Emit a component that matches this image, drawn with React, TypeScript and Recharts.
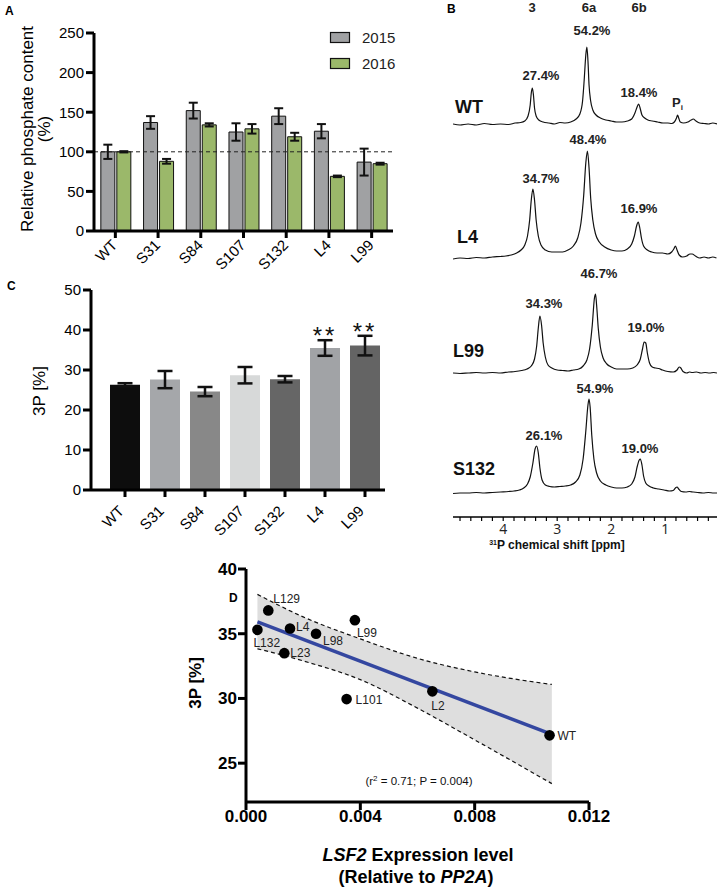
import React from 'react';
import {
  BarChart, Bar, XAxis, YAxis, ErrorBar, ReferenceLine, ReferenceDot, Legend, Cell,
  LineChart, Line, ComposedChart, Area, Scatter,
} from 'recharts';

const FONT = '"Liberation Sans", Arial, Helvetica, sans-serif';
const INK = '#111';

// ---------------- Panel A: relative phosphate content ----------------
const linesA = ['WT', 'S31', 'S84', 'S107', 'S132', 'L4', 'L99'];
const phosphate2015 = [100, 137, 152, 125, 145, 126, 87];
const phosphate2015Err = [9, 8, 10, 11, 10, 9, 17];
const phosphate2016 = [100, 88, 134, 129, 119, 69, 85];
const phosphate2016Err = [0.8, 3, 2, 6, 5, 1, 1.2];
const yearsA = ['2015', '2016'];
const ticksA = [0, 50, 100, 150, 200, 250];

// ---------------- Panel C: 3P [%] ----------------
const linesC = ['WT', 'S31', 'S84', 'S107', 'S132', 'L4', 'L99'];
const p3Mean = [26.3, 27.6, 24.6, 28.7, 27.7, 35.5, 36.1];
const p3Err = [0.4, 2.15, 1.15, 2.05, 0.8, 1.95, 2.45];
const p3Sig = ['', '', '', '', '', '**', '**'];
const ticksC = [0, 10, 20, 30, 40, 50];

// ---------------- Panel D: 3P vs LSF2 expression ----------------
const lineNamesD = ['L129', 'L132', 'L4', 'L98', 'L23', 'L99', 'L101', 'L2', 'WT'];
const lsf2Expr = [0.00078, 0.0004, 0.00154, 0.00245, 0.00134, 0.00381, 0.00352, 0.00652, 0.01062];
const p3PercentD = [36.8, 35.3, 35.4, 35.0, 33.5, 36.05, 29.95, 30.55, 27.15];
const fitX = [0.0004, 0.0107];
const fitY = [35.92, 27.22];
const bandX = [0.0004, 0.002, 0.004, 0.006, 0.008, 0.0107];
const bandLo = [33.84, 32.9, 31.45, 29.25, 26.8, 23.42];
const bandHi = [38.04, 36.3, 34.6, 33.1, 32.05, 31.08];
const ticksDx = [0, 0.004, 0.008, 0.012];
const ticksDy = [25, 30, 35, 40];

// ---------------- Panel B: 31P NMR spectra ----------------
type Pt = [number, number];
const spectraNames = ['WT', 'L4', 'L99', 'S132'];
const peakNames = ['3', '6a', '6b'];
const peakPercents = [
  ['27.4%', '54.2%', '18.4%'],
  ['34.7%', '48.4%', '16.9%'],
  ['34.3%', '46.7%', '19.0%'],
  ['26.1%', '54.9%', '19.0%'],
];
const ticksB = [4.8, 4.6, 4.4, 4.2, 4, 3.8, 3.6, 3.4, 3.2, 3, 2.8, 2.6, 2.4, 2.2, 2, 1.8, 1.6, 1.4, 1.2, 1, 0.8, 0.6, 0.4, 0.2];

const wtSpectrum: Pt[] = [
  [4.93, 1], [4.8, 0], [4.65, 1], [4.5, 0], [4.35, 1.5], [4.2, 0.5], [4.05, 1], [3.9, 0.5], [3.78, 2], [3.68, 2.5],
  [3.6, 4], [3.54, 9], [3.5, 20], [3.48, 32], [3.46, 37], [3.44, 30], [3.42, 17], [3.39, 9], [3.34, 5], [3.26, 3],
  [3.15, 2], [3.05, 1], [2.95, 2.5], [2.85, 2], [2.75, 3], [2.65, 6], [2.58, 11], [2.53, 24], [2.5, 45], [2.47, 70],
  [2.45, 78], [2.43, 64], [2.41, 40], [2.38, 24], [2.34, 15], [2.28, 10], [2.2, 7], [2.1, 5], [2.0, 4], [1.9, 3],
  [1.8, 3], [1.7, 4], [1.62, 6], [1.56, 12], [1.52, 18], [1.49, 21], [1.46, 16], [1.43, 10], [1.38, 7], [1.32, 5],
  [1.24, 4], [1.14, 3], [1.04, 2], [0.95, 2], [0.88, 1.5], [0.83, 3], [0.79, 7], [0.77, 10], [0.75, 7], [0.72, 3],
  [0.66, 2], [0.58, 3], [0.52, 5], [0.48, 6], [0.43, 4], [0.36, 2], [0.28, 1.5], [0.2, 1], [0.12, 2], [0.04, 1],
];
const l4Spectrum: Pt[] = [
  [4.93, -1], [4.8, 0], [4.65, -0.5], [4.5, 0.5], [4.35, 0], [4.2, 1], [4.05, 1.5], [3.95, 2], [3.85, 3], [3.75, 5],
  [3.67, 8], [3.6, 13], [3.55, 22], [3.51, 38], [3.48, 58], [3.45, 69], [3.42, 58], [3.39, 38], [3.35, 22], [3.3, 13],
  [3.22, 8], [3.1, 6], [3.0, 6], [2.9, 6], [2.8, 8], [2.7, 12], [2.62, 20], [2.56, 35], [2.51, 62], [2.47, 95],
  [2.44, 107], [2.41, 90], [2.38, 60], [2.34, 38], [2.29, 24], [2.22, 16], [2.12, 11], [2.0, 8], [1.9, 7], [1.8, 7],
  [1.7, 9], [1.62, 14], [1.57, 22], [1.53, 32], [1.5, 36], [1.47, 30], [1.44, 20], [1.4, 12], [1.33, 8], [1.25, 6],
  [1.15, 5], [1.05, 5], [0.95, 4], [0.88, 6], [0.84, 9], [0.81, 12], [0.78, 8], [0.74, 3], [0.68, 1], [0.6, 2],
  [0.54, 4], [0.5, 4], [0.44, 2], [0.36, 0], [0.28, 1], [0.2, 0], [0.12, 1], [0.05, 0],
];
const l99Spectrum: Pt[] = [
  [4.93, 0], [4.8, -0.5], [4.65, 0], [4.5, 0.5], [4.35, 0], [4.2, 0.5], [4.05, 0], [3.9, 1], [3.78, 1.5], [3.66, 2.5],
  [3.56, 4], [3.48, 7], [3.42, 14], [3.38, 27], [3.35, 45], [3.32, 57], [3.29, 48], [3.26, 30], [3.22, 16], [3.17, 8],
  [3.1, 5], [3.0, 3], [2.9, 2.5], [2.8, 2], [2.7, 3], [2.6, 4], [2.52, 7], [2.45, 13], [2.4, 24], [2.35, 48],
  [2.31, 75], [2.29, 79], [2.27, 68], [2.24, 45], [2.2, 26], [2.15, 15], [2.08, 9], [2.0, 6], [1.9, 4], [1.8, 4],
  [1.7, 4], [1.6, 5], [1.52, 8], [1.46, 14], [1.42, 24], [1.39, 31], [1.36, 30], [1.33, 20], [1.29, 10], [1.24, 6],
  [1.18, 5], [1.12, 4.5], [1.05, 3], [0.95, 1.5], [0.85, 1], [0.78, 3], [0.74, 6], [0.71, 5], [0.67, 1.5], [0.6, 0],
  [0.55, 1], [0.5, 0.5], [0.42, 1], [0.34, 0], [0.26, 0.5], [0.18, 0], [0.1, 0.5], [0.04, 0],
];
const s132Spectrum: Pt[] = [
  [4.93, -0.5], [4.8, 0], [4.65, 0], [4.5, 0.5], [4.35, 0], [4.2, 0.5], [4.05, 1], [3.9, 1.5], [3.8, 2], [3.7, 3],
  [3.62, 5], [3.55, 9], [3.5, 16], [3.45, 30], [3.41, 44], [3.38, 47], [3.35, 40], [3.32, 25], [3.28, 13], [3.22, 8],
  [3.14, 6.5], [3.05, 6], [2.95, 6.5], [2.85, 7], [2.75, 8], [2.66, 11], [2.58, 18], [2.52, 34], [2.47, 62], [2.43, 88],
  [2.41, 94], [2.39, 86], [2.36, 58], [2.32, 34], [2.27, 20], [2.2, 12], [2.1, 8], [2.0, 6], [1.9, 5], [1.8, 5],
  [1.7, 6], [1.62, 9], [1.56, 16], [1.52, 26], [1.48, 33], [1.46, 34], [1.43, 28], [1.4, 17], [1.36, 10], [1.3, 7],
  [1.22, 5], [1.12, 4], [1.02, 3], [0.92, 2], [0.85, 2.5], [0.81, 5], [0.78, 6], [0.75, 4], [0.7, 1.5], [0.62, 1],
  [0.55, 1.5], [0.48, 1], [0.4, 0.5], [0.3, 0], [0.2, 0.5], [0.1, 0], [0.04, 0],
];
const spectra = [wtSpectrum, l4Spectrum, l99Spectrum, s132Spectrum];

// ---------------- layout (pixel) configuration ----------------
const B_TOP = 20;
const B_AXIS = 517;
const specLayout = [
  { base: 125, name: [455, 113], pct: [[541, 80], [592, 35], [639, 97]] },
  { base: 258, name: [457, 243], pct: [[541, 183], [588, 144], [639, 213]] },
  { base: 373, name: [453, 357], pct: [[544, 308], [599, 278], [646, 332]] },
  { base: 493, name: [453, 475], pct: [[544, 440], [595, 393], [640, 453]] },
];
const peakHeaderX = [532, 589, 639];
const labelOffsetsD: Record<string, [number, number]> = {
  L129: [5, -11], L132: [-4, 13], L4: [6, -2], L98: [7, 7], L23: [6, 0],
  L99: [2, 13], L101: [9, 1], L2: [-1, 15], WT: [8, 1],
};

const GREY_A = '#a0a1a3';
const GREEN_A = '#9bb86a';
const barColorsC = ['#0d0d0d', '#a5a7aa', '#888888', '#d7d9d9', '#666666', '#a1a3a6', '#646464'];

// ---------------- derived tables ----------------
const dataA = linesA.map((name, i) => ({
  name, y2015: phosphate2015[i], e2015: phosphate2015Err[i], y2016: phosphate2016[i], e2016: phosphate2016Err[i],
}));
const dataC = linesC.map((name, i) => ({ name, mean: p3Mean[i], err: p3Err[i] }));
const pointsD = lineNamesD.map((name, i) => ({ name, x: lsf2Expr[i], y: p3PercentD[i] }));
const fitD = fitX.map((x, i) => ({ x, y: fitY[i] }));
const bandD = bandX.map((x, i) => ({ x, lo: bandLo[i], hi: bandHi[i], range: [bandLo[i], bandHi[i]] }));
const spectraRows = spectra.map((s) => s.map(([ppm, v]) => ({ ppm, v })));

const axisStyle = { stroke: '#000', strokeWidth: 3 };
const tickFont = { fontSize: 15, fill: '#000', fontFamily: FONT };

const RotTick = (props: any) => {
  const { x, y, payload, shiftX = 0, shiftY = 0 } = props;
  return (
    <text transform={`translate(${x + shiftX},${y + shiftY}) rotate(-45)`} textAnchor="end"
      fontSize={15} fontFamily={FONT} fill="#000">{payload.value}</text>
  );
};

const LegendA = () => (
  <svg width={90} height={44} style={{ display: 'block' }}>
    {yearsA.map((yr, i) => (
      <g key={yr}>
        <rect x={1.5} y={2.5 + i * 26} width={19} height={10} fill={i ? GREEN_A : GREY_A} stroke={INK} strokeWidth={1.2} />
        <text x={33} y={13 + i * 26} fontSize={15} fontFamily={FONT} fill="#222">{yr}</text>
      </g>
    ))}
  </svg>
);

const DotShape = (p: any) => {
  const { cx, cy, payload } = p;
  const [dx, dy] = labelOffsetsD[payload.name] || [6, 0];
  return (
    <g>
      <circle cx={cx} cy={cy} r={5.3} fill="#000" />
      <text x={cx + dx} y={cy + dy} dominantBaseline="central" fontSize={12} fontFamily={FONT} fill="#222">{payload.name}</text>
    </g>
  );
};

export default function App() {
  return (
    <div style={{ position: 'absolute', left: 0, top: 0, width: 722, height: 892, background: '#fff', fontFamily: FONT }}>
      {/* Panel A */}
      <div style={{ position: 'absolute', left: 0, top: 0 }}>
        <BarChart width={400} height={300} data={dataA} margin={{ top: 33, right: 7, left: 44, bottom: 19 }}
          barCategoryGap="16%" barGap={2}>
          <XAxis dataKey="name" axisLine={axisStyle} tickLine={axisStyle} tickSize={7} height={50} interval={0}
            tick={<RotTick shiftX={3} shiftY={6} />} />
          <YAxis domain={[0, 250]} ticks={ticksA} width={50} axisLine={axisStyle} tickLine={axisStyle}
            tickSize={8} tickMargin={2} tick={tickFont} interval={0} />
          <ReferenceLine y={100} stroke="#222" strokeDasharray="4 3" strokeWidth={1} />
          <Bar dataKey="y2015" name="2015" fill={GREY_A} stroke={INK} strokeWidth={1} isAnimationActive={false}>
            <ErrorBar dataKey="e2015" width={4.5} strokeWidth={2} stroke={INK} />
          </Bar>
          <Bar dataKey="y2016" name="2016" fill={GREEN_A} stroke={INK} strokeWidth={1} isAnimationActive={false}>
            <ErrorBar dataKey="e2016" width={4.5} strokeWidth={2} stroke={INK} />
          </Bar>
          <Legend layout="vertical" verticalAlign="middle" align="center" content={LegendA}
            wrapperStyle={{ left: 329, top: 30, width: 90, height: 44 }} />
        </BarChart>
      </div>

      {/* Panel C */}
      <div style={{ position: 'absolute', left: 0, top: 270 }}>
        <BarChart width={400} height={290} data={dataC} margin={{ top: 20, right: 15, left: 41, bottom: 20 }}
          barCategoryGap="12.5%">
          <XAxis dataKey="name" padding={{ left: 14, right: 0 }} axisLine={axisStyle} tickLine={axisStyle} tickSize={7}
            height={50} interval={0} tick={<RotTick shiftX={0} shiftY={13} />} />
          <YAxis domain={[0, 50]} ticks={ticksC} width={50} axisLine={axisStyle} tickLine={axisStyle}
            tickSize={8} tickMargin={2} tick={tickFont} interval={0} />
          <Bar dataKey="mean" isAnimationActive={false}>
            {dataC.map((d, i) => <Cell key={d.name} fill={barColorsC[i]} />)}
            <ErrorBar dataKey="err" width={7.5} strokeWidth={2.5} stroke={INK} />
          </Bar>
          {p3Sig.map((s, i) => s ? (
            <ReferenceDot key={linesC[i]} x={linesC[i]} y={p3Mean[i] + p3Err[i]} r={0} fill="none" stroke="none"
              ifOverflow="visible"
              label={{ value: s, position: 'top', offset: -4, fontSize: 24, fill: INK, fontFamily: FONT, letterSpacing: 3 }} />
          ) : null)}
        </BarChart>
      </div>

      {/* Panel B */}
      <div style={{ position: 'absolute', left: 453, top: B_TOP }}>
        <LineChart width={264} height={B_AXIS - B_TOP + 30} margin={{ top: 0, right: 0, left: 0, bottom: 0 }}>
          <XAxis type="number" dataKey="ppm" domain={[0.04, 4.93]} reversed ticks={ticksB} interval={0}
            tickFormatter={(v: number) => (Number.isInteger(v) ? String(v) : '')}
            axisLine={{ stroke: '#000', strokeWidth: 1.5 }} tickLine={{ stroke: '#000', strokeWidth: 1.2 }}
            tickSize={4} tickMargin={3} height={30}
            tick={{ fontSize: 14, fill: '#222', fontFamily: '"Open Sans", "DejaVu Sans", sans-serif' }} />
          {specLayout.map((l, i) => (
            <YAxis key={i} yAxisId={spectraNames[i]} hide domain={[-(B_AXIS - l.base), l.base - B_TOP]} allowDataOverflow />
          ))}
          {spectraRows.map((rows, i) => (
            <Line key={spectraNames[i]} data={rows} dataKey="v" yAxisId={spectraNames[i]} type="monotone" dot={false}
              stroke={INK} strokeWidth={1.2} isAnimationActive={false} />
          ))}
        </LineChart>
      </div>

      {/* Panel D */}
      <div style={{ position: 'absolute', left: 160, top: 549 }}>
        <ComposedChart width={450} height={300} margin={{ top: 20, right: 21, left: 26, bottom: 17 }}>
          <XAxis type="number" dataKey="x" domain={[0, 0.012]} ticks={ticksDx} interval={0}
            tickFormatter={(v: number) => v.toFixed(3)} axisLine={axisStyle} tickLine={axisStyle}
            tickSize={8} tickMargin={0} height={30}
            tick={{ fontSize: 17, fontWeight: 'bold', fill: '#000', fontFamily: FONT }} />
          <YAxis type="number" domain={[22, 40]} ticks={ticksDy} interval={0} width={60}
            axisLine={axisStyle} tickLine={axisStyle} tickSize={8} tickMargin={1}
            tick={{ fontSize: 17, fontWeight: 'bold', fill: '#000', fontFamily: FONT }} />
          <Area data={bandD} dataKey="range" type="monotone" stroke="none" fill="#dedede" fillOpacity={1}
            isAnimationActive={false} />
          <Line data={bandD} dataKey="hi" type="monotone" dot={false} stroke={INK} strokeWidth={1.2}
            strokeDasharray="4 3" isAnimationActive={false} />
          <Line data={bandD} dataKey="lo" type="monotone" dot={false} stroke={INK} strokeWidth={1.2}
            strokeDasharray="4 3" isAnimationActive={false} />
          <Line data={fitD} dataKey="y" type="linear" dot={false} stroke="#3447a0" strokeWidth={3.5}
            isAnimationActive={false} />
          <Scatter data={pointsD} dataKey="y" shape={DotShape} isAnimationActive={false} />
        </ComposedChart>
      </div>

      {/* text annotations */}
      <svg width={722} height={892} style={{ position: 'absolute', left: 0, top: 0, pointerEvents: 'none' }}
        fontFamily={FONT}>
        <text x={5} y={15} fontSize={12} fontWeight="bold">A</text>
        <text x={447} y={13} fontSize={12} fontWeight="bold">B</text>
        <text x={7} y={290} fontSize={12} fontWeight="bold">C</text>
        <text x={229} y={602} fontSize={12} fontWeight="bold">D</text>

        {/* A y label */}
        <text transform="translate(33,129) rotate(-90)" textAnchor="middle" fontSize={17} fill="#000">Relative phosphate content</text>
        <text transform="translate(50,129) rotate(-90)" textAnchor="middle" fontSize={17} fill="#000">(%)</text>

        {/* C y label */}
        <text transform="translate(45,391) rotate(-90)" textAnchor="middle" fontSize={17} fill="#000">3P [%]</text>

        {/* B headers */}
        {peakNames.map((p, i) => (
          <text key={p} x={peakHeaderX[i]} y={12} textAnchor="middle" fontSize={13} fontWeight="bold" fill="#222">{p}</text>
        ))}
        {specLayout.map((l, i) => (
          <g key={spectraNames[i]}>
            <text x={l.name[0]} y={l.name[1]} fontSize={18} fontWeight="bold" fill="#111">{spectraNames[i]}</text>
            {l.pct.map((pp, j) => (
              <text key={j} x={pp[0]} y={pp[1]} textAnchor="middle" fontSize={13} fontWeight="bold" fill="#222">
                {peakPercents[i][j]}
              </text>
            ))}
          </g>
        ))}
        <text x={672} y={107} fontSize={13} fontWeight="bold" fill="#222">P<tspan fontSize={8} dy={3}>i</tspan></text>
        <text x={557} y={549} textAnchor="middle" fontSize={12} fontWeight="bold" fill="#111">
          <tspan fontSize={7} dy={-4}>31</tspan><tspan dy={4}>P chemical shift [ppm]</tspan>
        </text>

        {/* D labels */}
        <text transform="translate(201,683) rotate(-90)" textAnchor="middle" fontSize={17} fontWeight="bold" fill="#000">3P [%]</text>
        <text x={418} y={861} textAnchor="middle" fontSize={18} fontWeight="bold" fill="#000">
          <tspan fontStyle="italic">LSF2</tspan> Expression level
        </text>
        <text x={416} y={883} textAnchor="middle" fontSize={18} fontWeight="bold" fill="#000">
          (Relative to <tspan fontStyle="italic">PP2A</tspan>)
        </text>
        <text x={419} y={785} textAnchor="middle" fontSize={11.5} fill="#111">
          (r<tspan fontSize={8} dy={-4}>2</tspan><tspan dy={4}> = 0.71; P = 0.004)</tspan>
        </text>
      </svg>
    </div>
  );
}
